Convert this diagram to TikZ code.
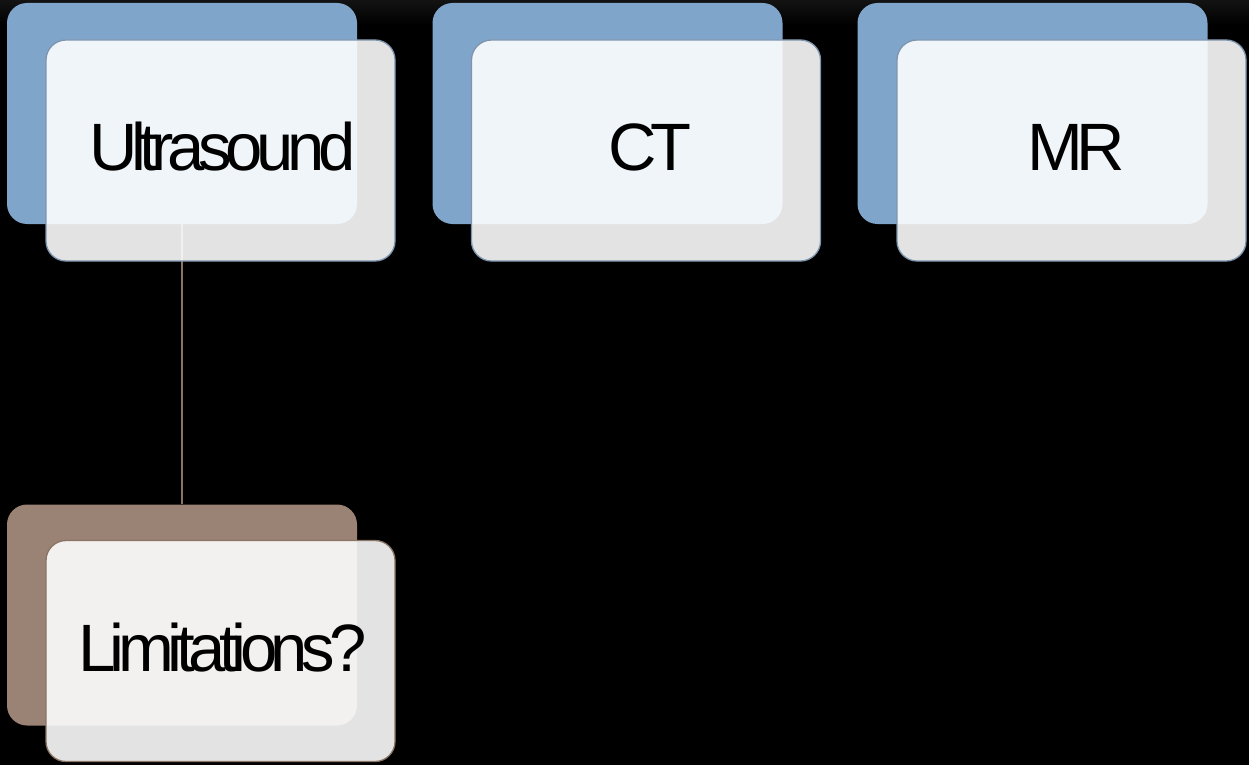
\documentclass[tikz,border=0pt]{standalone}
\usepackage{fontspec}
\setmainfont{Liberation Sans}[LetterSpace=-9.5]
\usetikzlibrary{positioning}
\definecolor{bgtop}{HTML}{131313}
\definecolor{backblue}{HTML}{7FA5CB}
\definecolor{backbrown}{HTML}{9A8274}
\definecolor{edgeblue}{HTML}{7D95AE}
\definecolor{edgebrown}{HTML}{8A7464}
\definecolor{linkcol}{HTML}{8A7565}
\tikzset{
  backbox/.style={rounded corners=20pt, minimum width=350pt, minimum height=221pt, inner sep=0pt, draw=none},
  frontbox/.style={rounded corners=20pt, minimum width=349pt, minimum height=221pt, inner sep=0pt,
    fill=white, fill opacity=0.89, text opacity=1, line width=1.3pt,
    font=\fontsize{67}{70}\selectfont, text height=40pt, text depth=0pt},
  link/.style={draw=linkcol, line width=2pt}
}
\begin{document}
\begin{tikzpicture}[x=1pt,y=-1pt]
\useasboundingbox (0,0) rectangle (1249,765);
\fill[black] (0,0) rectangle (1249,765);
\shade[top color=bgtop, bottom color=black] (0,0) rectangle (1249,25);
% back boxes
\node[backbox, fill=backblue] (ub) at (182,113.5) {};
\node[backbox, fill=backblue] (cb) at (607.5,113.5) {};
\node[backbox, fill=backblue] (mb) at (1032.5,113.5) {};
\node[backbox, fill=backbrown] (lb) at (182,615) {};
% connector
\draw[link] (ub.south) -- (lb.north);
% front boxes
\node[frontbox, draw=edgeblue] (u) at (220.5,150.5) {\hspace{4pt}Ultrasound};
\node[frontbox, draw=edgeblue] (c) at (646,150.5) {\hspace{8pt}CT};
\node[frontbox, draw=edgeblue] (m) at (1071.5,150.5) {\hspace{9pt}MR};
\node[frontbox, draw=edgebrown] (l) at (220.5,651) {\hspace{4pt}Limitations?};
\end{tikzpicture}
\end{document}
